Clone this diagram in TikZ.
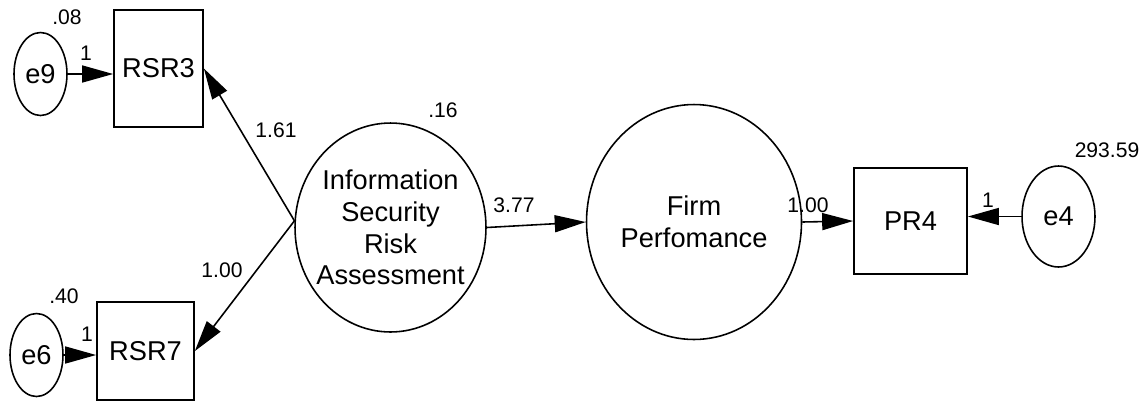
\documentclass[tikz,border=0pt]{standalone}
\usepackage{fontspec}
\setmainfont{Liberation Sans}
\usetikzlibrary{arrows.meta,shapes.geometric}

\tikzset{
  obs/.style={draw,line width=1pt,rectangle,inner sep=0pt,font=\fontsize{15.5}{18}\selectfont},
  lat/.style={draw,line width=0.9pt,ellipse,inner sep=-0.5cm,align=center,font=\fontsize{15.5}{18}\selectfont},
  err/.style={lat,inner sep=0pt,minimum width=1.06cm,minimum height=1.66cm},
  lbl/.style={inner sep=0pt,font=\fontsize{12}{14}\selectfont},
  reg/.style={-{Triangle[length=0.62cm,width=0.34cm]},line width=0.9pt}
}

\begin{document}
\begin{tikzpicture}[x=0.02cm,y=-0.02cm]
\useasboundingbox (0,0) rectangle (1145,407);

% indicators and error terms
\node[obs,minimum width=1.78cm,minimum height=2.34cm] (rsr3) at (158.5,68.5) {RSR3};
\node[obs,minimum width=1.94cm,minimum height=1.96cm] (rsr7) at (145.5,351) {RSR7};
\node[obs,minimum width=2.26cm,minimum height=2.12cm] (pr4) at (910.5,221) {PR4};
\node[err] (e9) at (40.5,74) {e9};
\node[err] (e6) at (36.5,355) {e6};
\node[err,minimum width=1.46cm,minimum height=2.02cm] (e4) at (1058.5,216.5) {e4};

% latent variables
\node[lat,minimum width=3.82cm,minimum height=4.18cm] (isra) at (390.5,227.5)
  {Information\\Security\\Risk\\Assessment};
\node[lat,minimum width=4.3cm,minimum height=4.7cm] (firm) at (694,222)
  {Firm\\Perfomance};

% paths
\draw[reg] (e9.east) -- (rsr3.west |- e9.east);
\draw[reg] (e6.east) -- (rsr7.west |- e6.east);
\draw[reg] (e4.west) -- (pr4.east |- e4.west);
\draw[reg] (isra.176) -- (rsr3.east);
\draw[reg] (isra.176) -- (rsr7.east);
\draw[reg] (isra.east) -- (firm.west);
\draw[reg] (firm.east) -- (pr4.west);

% estimates
\foreach \x/\y/\n/\t in {67/17/v9/.08, 86/53/w9/1, 64/296/v6/.40, 87/334/w6/1,
    276/130/b3/1.61, 222/270/b7/1.00, 443/110/visra/.16, 514/205/bfirm/3.77,
    808/205/bpr4/1.00, 988/200/w4/1, 1107/150/v4/293.59}
  \node[lbl] (\n) at (\x,\y) {\t};
\end{tikzpicture}
\end{document}
